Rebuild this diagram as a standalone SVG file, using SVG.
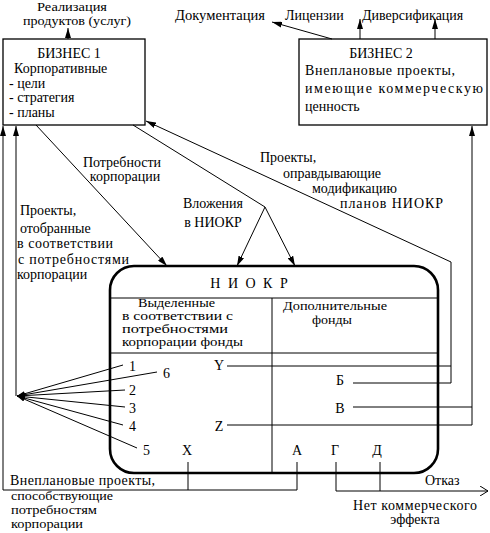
<svg xmlns="http://www.w3.org/2000/svg" width="490" height="533" viewBox="0 0 490 533" xml:space="preserve" font-family="'Liberation Serif', 'Times New Roman', 'DejaVu Serif', serif" font-size="14">
<style>
text{font-family:'Liberation Serif','Times New Roman','DejaVu Serif',serif;font-size:14px;fill:#000}
.sm{font-size:12px}
.m12{font-size:12px}
.ln{fill:none;stroke:#000;stroke-width:1}
.box{fill:#fff;stroke:#000;stroke-width:1.3}
.thick{fill:#fff;stroke:#000;stroke-width:2.6}
</style>
<defs>
<marker id="ah" viewBox="0 0 10 6" refX="10" refY="3" markerWidth="10" markerHeight="6" orient="auto" markerUnits="userSpaceOnUse"><path d="M0,0 L10,3 L0,6 z" fill="#000"/></marker>
<marker id="fan" viewBox="0 0 8 5" refX="8" refY="2.5" markerWidth="8" markerHeight="5" orient="auto" markerUnits="userSpaceOnUse"><path d="M0,0 L8,2.5 L0,5 z" fill="#000"/></marker>
<marker id="open" viewBox="0 0 8 10" refX="8" refY="5" markerWidth="8" markerHeight="10" orient="auto" markerUnits="userSpaceOnUse"><path d="M0,0 L8,5 L0,10" fill="none" stroke="#000" stroke-width="1"/></marker>
</defs>

<g id="top-labels">
<text class="m12" x="72" y="11" text-anchor="middle" textLength="70" lengthAdjust="spacingAndGlyphs">Реализация</text>
<text class="m12" x="77" y="25" text-anchor="middle" textLength="108" lengthAdjust="spacingAndGlyphs">продуктов (услуг)</text>
<text x="175" y="20" textLength="90" lengthAdjust="spacingAndGlyphs">Документация</text>
<text x="285" y="20">Лицензии</text>
<text x="362" y="20">Диверсификация</text>
</g>

<g id="biznes1">
<rect class="box" x="3" y="39" width="142" height="86"/>
<text x="69" y="58" text-anchor="middle">БИЗНЕС  1</text>
<text x="14" y="73">Корпоративные</text>
<text x="9" y="88">- цели</text>
<text x="9" y="102">- стратегия</text>
<text x="9" y="117">- планы</text>
</g>

<g id="biznes2">
<rect class="box" x="299" y="39" width="188" height="86"/>
<text x="381" y="58" text-anchor="middle">БИЗНЕС  2</text>
<text x="305" y="75" textLength="150" lengthAdjust="spacing">Внеплановые  проекты,</text>
<text x="305" y="93" textLength="178" lengthAdjust="spacing">имеющие  коммерческую</text>
<text x="305" y="111">ценность</text>
</g>

<g id="niokr">
<rect class="thick" x="110" y="266" width="328" height="207" rx="24" ry="24"/>
<path class="ln" d="M110,298 H438 M110,353 H438 M272,298 V473"/>
<text x="250" y="288" text-anchor="middle" letter-spacing="2">Н И О К Р</text>
<text class="sm" x="138" y="307" textLength="77" lengthAdjust="spacingAndGlyphs">Выделенные</text>
<text class="sm" x="122" y="320" textLength="111" lengthAdjust="spacingAndGlyphs">в  соответствии с</text>
<text class="sm" x="122" y="333" textLength="106" lengthAdjust="spacingAndGlyphs">потребностями</text>
<text class="sm" x="122" y="346" textLength="121" lengthAdjust="spacingAndGlyphs">корпорации  фонды</text>
<text class="sm" x="283" y="310" textLength="104" lengthAdjust="spacingAndGlyphs">Дополнительные</text>
<text class="sm" x="332" y="324" text-anchor="middle" textLength="40" lengthAdjust="spacingAndGlyphs">фонды</text>
</g>

<g id="items">
<text x="129" y="371">1</text>
<text x="163" y="378">6</text>
<text x="129" y="395">2</text>
<text x="129" y="413">3</text>
<text x="129" y="431">4</text>
<text x="143" y="455">5</text>
<text x="187" y="455" text-anchor="middle">X</text>
<text x="219" y="370" text-anchor="middle">Y</text>
<text x="219" y="431" text-anchor="middle">Z</text>
<text x="340" y="385" text-anchor="middle">Б</text>
<text x="340" y="413" text-anchor="middle">В</text>
<text x="297" y="455" text-anchor="middle">А</text>
<text x="335" y="455" text-anchor="middle">Г</text>
<text x="377" y="455" text-anchor="middle">Д</text>
</g>

<g id="connectors">
<path class="ln" d="M68,39 V28" marker-end="url(#ah)"/>
<path class="ln" d="M332,39 L272,22" marker-end="url(#ah)"/>
<path class="ln" d="M360,39 V19" marker-end="url(#ah)"/>
<path class="ln" d="M435,39 V19" marker-end="url(#ah)"/>
<path class="ln" d="M297,462 V490 H3 V126" marker-end="url(#ah)"/>
<path class="ln" d="M188,462 V490"/>
<path class="ln" d="M16,396 V126" marker-end="url(#ah)"/>
<path class="ln" d="M123,365 L17,396" marker-end="url(#fan)"/>
<path class="ln" d="M157,372 L17,396" marker-end="url(#fan)"/>
<path class="ln" d="M125,390 L17,396" marker-end="url(#fan)"/>
<path class="ln" d="M125,407 L17,396" marker-end="url(#fan)"/>
<path class="ln" d="M123,425 L17,396" marker-end="url(#fan)"/>
<path class="ln" d="M137,448 L17,396" marker-end="url(#fan)"/>
<path class="ln" d="M36,125 L167,266" marker-end="url(#ah)"/>
<path class="ln" d="M133,125 L265,207 L237,266" marker-end="url(#ah)"/>
<path class="ln" d="M265,207 L295,266" marker-end="url(#ah)"/>
<path class="ln" d="M227,366 H451"/>
<path class="ln" d="M353,383 H451 V262 L146,121" marker-end="url(#ah)"/>
<path class="ln" d="M353,407 H472"/>
<path class="ln" d="M227,425 H472 V126" marker-end="url(#ah)"/>
<path class="ln" d="M336,462 V491 H488" marker-end="url(#open)"/>
<path class="ln" d="M380,462 V491"/>
</g>

<g id="labels">
<text x="122" y="167" text-anchor="middle">Потребности</text>
<text x="125" y="181" text-anchor="middle">корпорации</text>
<text x="213" y="208" text-anchor="middle">Вложения</text>
<text x="213" y="227" text-anchor="middle">в  НИОКР</text>
<text x="260" y="162">Проекты,</text>
<text x="283" y="178">оправдывающие</text>
<text x="312" y="193">модификацию</text>
<text x="340" y="208" textLength="103" lengthAdjust="spacing">планов  НИОКР</text>
<text x="20" y="215">Проекты,</text>
<text x="20" y="233">отобранные</text>
<text x="17" y="248" textLength="96" lengthAdjust="spacing">в соответствии</text>
<text x="18" y="264" textLength="111" lengthAdjust="spacing">с  потребностями</text>
<text x="17" y="279">корпорации</text>
<text x="10" y="485" textLength="145" lengthAdjust="spacing">Внеплановые  проекты,</text>
<text class="m12" x="11" y="500" textLength="102" lengthAdjust="spacingAndGlyphs">способствующие</text>
<text class="m12" x="11" y="514" textLength="86" lengthAdjust="spacingAndGlyphs">потребностям</text>
<text class="m12" x="11" y="528" textLength="72" lengthAdjust="spacingAndGlyphs">корпорации</text>
<text x="425" y="485">Отказ</text>
<text x="415" y="510" text-anchor="middle" textLength="124" lengthAdjust="spacing">Нет коммерческого</text>
<text x="415" y="524" text-anchor="middle">эффекта</text>
</g>
</svg>
